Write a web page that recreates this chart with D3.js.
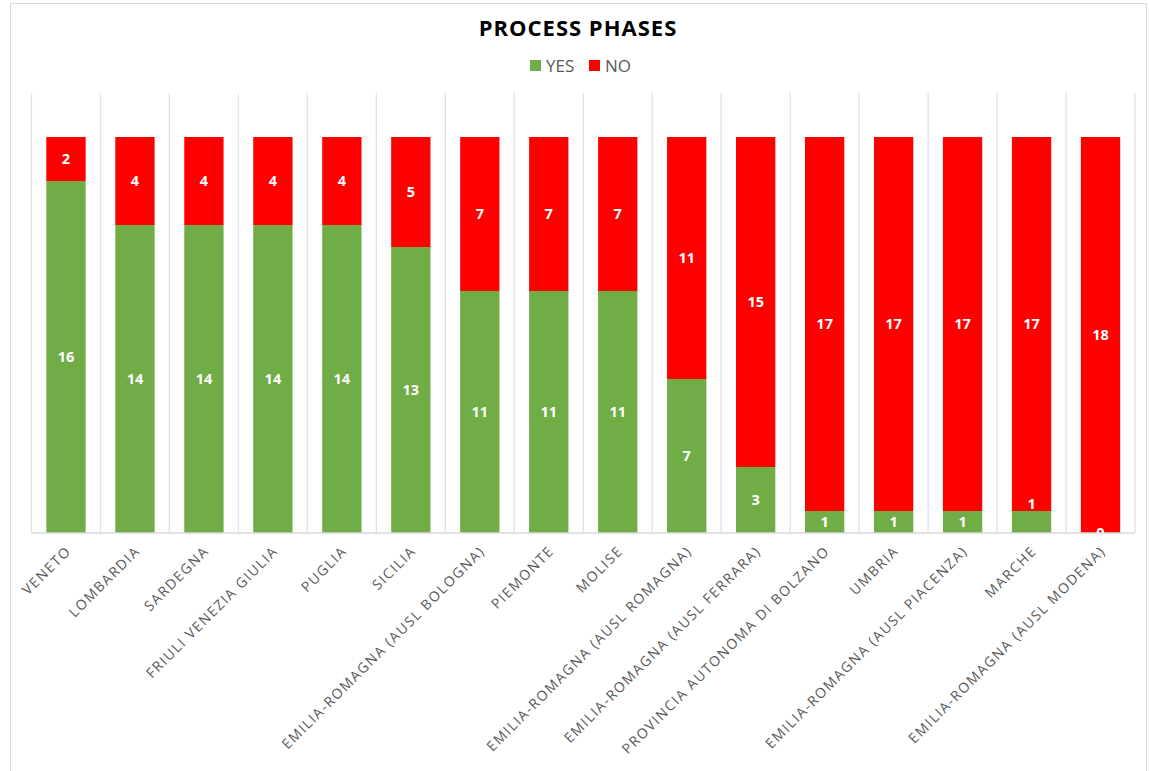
<!DOCTYPE html>
<html>
<head>
<meta charset="utf-8">
<script src="https://cdn.jsdelivr.net/npm/d3@7"></script>
<style>
  body { margin: 0; background: #fff; }
  text { font-family: "Open Sans", sans-serif; }
</style>
</head>
<body>
<script>
var width = 1149,
    height = 771;

// data
var regions = ['VENETO', 'LOMBARDIA', 'SARDEGNA', 'FRIULI VENEZIA GIULIA', 'PUGLIA', 'SICILIA',
  'EMILIA-ROMAGNA (AUSL BOLOGNA)', 'PIEMONTE', 'MOLISE', 'EMILIA-ROMAGNA (AUSL ROMAGNA)',
  'EMILIA-ROMAGNA (AUSL FERRARA)', 'PROVINCIA AUTONOMA DI BOLZANO', 'UMBRIA',
  'EMILIA-ROMAGNA (AUSL PIACENZA)', 'MARCHE', 'EMILIA-ROMAGNA (AUSL MODENA)'];
var yesValues = [16, 14, 14, 14, 14, 13, 11, 11, 11, 7, 3, 1, 1, 1, 1, 0];
var noValues  = [2, 4, 4, 4, 4, 5, 7, 7, 7, 11, 15, 17, 17, 17, 17, 18];
var seriesNames = ['YES', 'NO'];
var colors = ['#70AD47', '#FF0000'];
// label sits above its segment for this one in the original
var yesLabelAbove = ['MARCHE'];

var margin = {top: 93, right: 14, bottom: 238, left: 31.5};

var svg = d3.select('body')
  .append('svg')
    .attr('width', width)
    .attr('height', height);

// outer frame
svg.append('rect')
    .attr('x', 10.5)
    .attr('y', 3.5)
    .attr('width', 1136)
    .attr('height', 800)
    .attr('fill', 'none')
    .attr('stroke', '#d9d9d9');

var rows = regions.map(function(r, i){ return {region: r, YES: yesValues[i], NO: noValues[i]}; });
var stack = d3.stack().keys(seriesNames)(rows);

var x = d3.scaleBand()
    .domain(regions)
    .range([margin.left, width - margin.right])
    .paddingInner(0.43)
    .paddingOuter(0.215);

var x0 = margin.left,
    bandW = (width - margin.right - margin.left) / regions.length;

var y = d3.scaleLinear()
    .domain([0, 20])
    .range([height - margin.bottom, margin.top]);

// vertical gridlines between categories
svg.append('g')
  .selectAll('line')
    .data(d3.range(regions.length + 1)).enter()
  .append('line')
    .attr('x1', function(d){ return x0 + d * bandW; })
    .attr('x2', function(d){ return x0 + d * bandW; })
    .attr('y1', y(20))
    .attr('y2', y(0))
    .attr('stroke', '#e2e2e2')
    .attr('stroke-width', 1.3);

svg.append('defs').append('clipPath')
    .attr('id', 'plot')
  .append('rect')
    .attr('x', margin.left)
    .attr('y', y(20))
    .attr('width', width - margin.right - margin.left)
    .attr('height', y(0) - y(20));

var layers = svg.append('g')
  .selectAll('g')
    .data(stack).enter()
  .append('g')
    .attr('fill', function(d, i){ return colors[i]; });

layers.selectAll('rect')
    .data(function(d){ return d; }).enter()
  .append('rect')
    .attr('x', function(d){ return x(d.data.region); })
    .attr('width', x.bandwidth())
    .attr('y', function(d){ return y(d[1]); })
    .attr('height', function(d){ return y(d[0]) - y(d[1]); });

// x axis
svg.append('line')
    .attr('x1', margin.left)
    .attr('x2', width - margin.right)
    .attr('y1', y(0))
    .attr('y2', y(0))
    .attr('stroke', '#d9d9d9')
    .attr('stroke-width', 1.3);

// data labels
var labels = svg.append('g')
    .attr('clip-path', 'url(#plot)');

stack.forEach(function(layer, li){
  labels.selectAll('text.s' + li)
      .data(layer).enter()
    .append('text')
      .attr('class', 's' + li)
      .attr('x', function(d){ return x(d.data.region) + x.bandwidth() / 2; })
      .attr('y', function(d){
        if (li == 0 && yesLabelAbove.indexOf(d.data.region) >= 0) return y(d[1]) - 7;
        return (y(d[0]) + y(d[1])) / 2;
      })
      .attr('dy', '0.36em')
      .attr('text-anchor', 'middle')
      .attr('fill', '#fff')
      .style('font-size', '14.5px')
      .style('font-weight', 'bold')
      .text(function(d){ return d.data[seriesNames[li]]; });
});

// category labels
svg.append('g')
  .selectAll('text')
    .data(regions).enter()
  .append('text')
    .attr('transform', function(d){
      return 'translate(' + (x(d) + x.bandwidth() / 2 + 6) + ',' + (y(0) + 19) + ') rotate(-45)';
    })
    .attr('text-anchor', 'end')
    .attr('fill', '#595959')
    .style('font-size', '14px')
    .style('letter-spacing', '1.5px')
    .text(function(d){ return d; });

// title
svg.append('text')
    .attr('x', 578)
    .attr('y', 36)
    .attr('text-anchor', 'middle')
    .attr('fill', '#000')
    .style('font-size', '22px')
    .style('font-weight', 'bold')
    .style('letter-spacing', '1px')
    .text('PROCESS PHASES');

// legend
var legendX = [530, 589];
var legend = svg.append('g')
  .selectAll('g')
    .data(seriesNames).enter()
  .append('g')
    .attr('transform', function(d, i){ return 'translate(' + legendX[i] + ',60)'; });

legend.append('rect')
    .attr('width', 11)
    .attr('height', 11)
    .attr('fill', function(d, i){ return colors[i]; });

legend.append('text')
    .attr('x', 16)
    .attr('y', 12)
    .attr('fill', '#595959')
    .style('font-size', '17px')
    .text(function(d){ return d; });
</script>
</body>
</html>
